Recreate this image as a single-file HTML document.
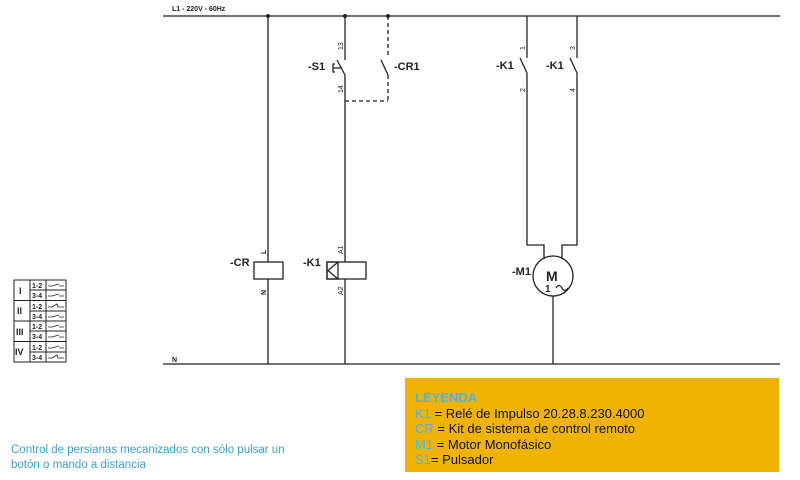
<!DOCTYPE html>
<html><head><meta charset="utf-8"><style>
body{margin:0;width:800px;height:480px;background:#fff;overflow:hidden;font-family:"Liberation Sans",sans-serif}
svg{position:absolute;left:0;top:0}
.leg{position:absolute;left:405px;top:378px;width:374px;height:94px;background:#f0b400;font-size:13px;line-height:15.5px;color:#111;padding:12px 0 0 10px;box-sizing:border-box}
.leg b{color:#4fb3e0}.leg span{color:#4fb3e0}
.cap{position:absolute;left:11px;top:443px;font-size:11.5px;line-height:15px;color:#3aa0d8}
</style></head><body>
<svg width="800" height="480" font-family="Liberation Sans" font-weight="bold">
<g stroke="#222" stroke-width="1.3" fill="none">
<line x1="163" y1="16" x2="780" y2="16"/>
<line x1="163" y1="364" x2="780" y2="364"/>
<line x1="268" y1="16" x2="268" y2="262"/><line x1="268" y1="279" x2="268" y2="364"/>
<rect x="254" y="262" width="29" height="17"/>
<line x1="345" y1="16" x2="345" y2="60"/><line x1="337" y1="60" x2="345" y2="75"/>
<line x1="345" y1="75" x2="345" y2="262"/><line x1="345" y1="279" x2="345" y2="364"/>
<polyline points="335,64 333,64 333,72 335,72"/><line x1="333" y1="68" x2="341" y2="68"/>
<rect x="327" y="262" width="39" height="17"/><rect x="327" y="262" width="11" height="17"/>
<polyline points="338,262 328,270.5 338,279"/>
<g stroke-dasharray="4,3"><line x1="388" y1="16" x2="388" y2="58"/><line x1="388" y1="75" x2="388" y2="101"/><line x1="345" y1="101" x2="388" y2="101"/></g>
<line x1="381" y1="60" x2="388" y2="75"/>
<line x1="527" y1="16" x2="527" y2="58"/><line x1="520" y1="58" x2="527" y2="73"/>
<polyline points="527,73 527,245 544,245 544,259"/>
<line x1="577" y1="16" x2="577" y2="58"/><line x1="570" y1="58" x2="577" y2="73"/>
<polyline points="577,73 577,245 562,245 562,259"/>
<circle cx="553" cy="276" r="20"/>
<line x1="553" y1="296" x2="553" y2="364"/>
<path d="M556 288 q3 -5 6 0 q3 5 6 0"/>
</g>
<g fill="#222">
<circle cx="268" cy="16" r="2"/><circle cx="345" cy="16" r="2"/><circle cx="388" cy="16" r="2"/>
<text x="172" y="11" font-size="7">L1 - 220V - 60Hz</text>
<text x="172" y="362" font-size="7">N</text>
<text x="308" y="70" font-size="11">-S1</text>
<text x="394" y="70" font-size="11">-CR1</text>
<text x="496" y="69" font-size="11">-K1</text>
<text x="546" y="69" font-size="11">-K1</text>
<text x="230" y="266" font-size="11">-CR</text>
<text x="303" y="266" font-size="11">-K1</text>
<text x="512" y="275" font-size="11">-M1</text>
<text x="546" y="281" font-size="14">M</text>
<text x="545" y="292" font-size="10">1</text>
<g font-size="7" font-weight="normal">
<text transform="translate(343,50) rotate(-90)">13</text>
<text transform="translate(343,93) rotate(-90)">14</text>
<text transform="translate(525,50) rotate(-90)">1</text>
<text transform="translate(525,92) rotate(-90)">2</text>
<text transform="translate(575,50) rotate(-90)">3</text>
<text transform="translate(575,92) rotate(-90)">4</text>
<text transform="translate(343,254) rotate(-90)">A1</text>
<text transform="translate(343,295) rotate(-90)">A2</text>
</g>
<text transform="translate(266,254) rotate(-90)" font-size="7">L</text>
<text transform="translate(266,295) rotate(-90)" font-size="7">N</text>
</g>
<g stroke="#222" stroke-width="1" fill="none">
<rect x="14" y="280" width="52" height="82"/>
<line x1="30" y1="280" x2="30" y2="362"/><line x1="46" y1="280" x2="46" y2="362"/>
<line x1="14" y1="300.5" x2="66" y2="300.5"/><line x1="14" y1="321" x2="66" y2="321"/><line x1="14" y1="341.5" x2="66" y2="341.5"/>
<line x1="30" y1="290" x2="66" y2="290"/><line x1="30" y1="311" x2="66" y2="311"/><line x1="30" y1="331" x2="66" y2="331"/><line x1="30" y1="352" x2="66" y2="352"/>
<g stroke-width="0.8">
<path d="M48 286h4l7-2M59 286h5"/><path d="M48 296h4l7-2M59 296h5"/>
<path d="M48 307h4l5-3l1 3h6"/><path d="M48 317h4l7-2M59 317h5"/>
<path d="M48 327h4l7-2M59 327h5"/><path d="M48 337h4l7-2M59 337h5"/>
<path d="M48 348h4l7-2M59 348h5"/><path d="M48 358h4l5-3l1 3h6"/>
</g></g>
<g font-size="7" fill="#222">
<text x="19" y="294" font-size="9">I</text><text x="17" y="314" font-size="9">II</text><text x="16" y="335" font-size="9">III</text><text x="15" y="355" font-size="9">IV</text>
<text x="32" y="288">1-2</text><text x="32" y="298">3-4</text><text x="32" y="309">1-2</text><text x="32" y="319">3-4</text>
<text x="32" y="329">1-2</text><text x="32" y="339">3-4</text><text x="32" y="350">1-2</text><text x="32" y="360">3-4</text>
</g>
</svg>
<div class="leg"><b>LEYENDA</b><br><span>K1</span> = Relé de Impulso 20.28.8.230.4000<br><span>CR</span> = Kit de sistema de control remoto<br><span>M1</span> = Motor Monofásico<br><span>S1</span>= Pulsador</div>
<div class="cap">Control de persianas mecanizados con sólo pulsar un<br>botón o mando a distancia</div>
</body></html>
